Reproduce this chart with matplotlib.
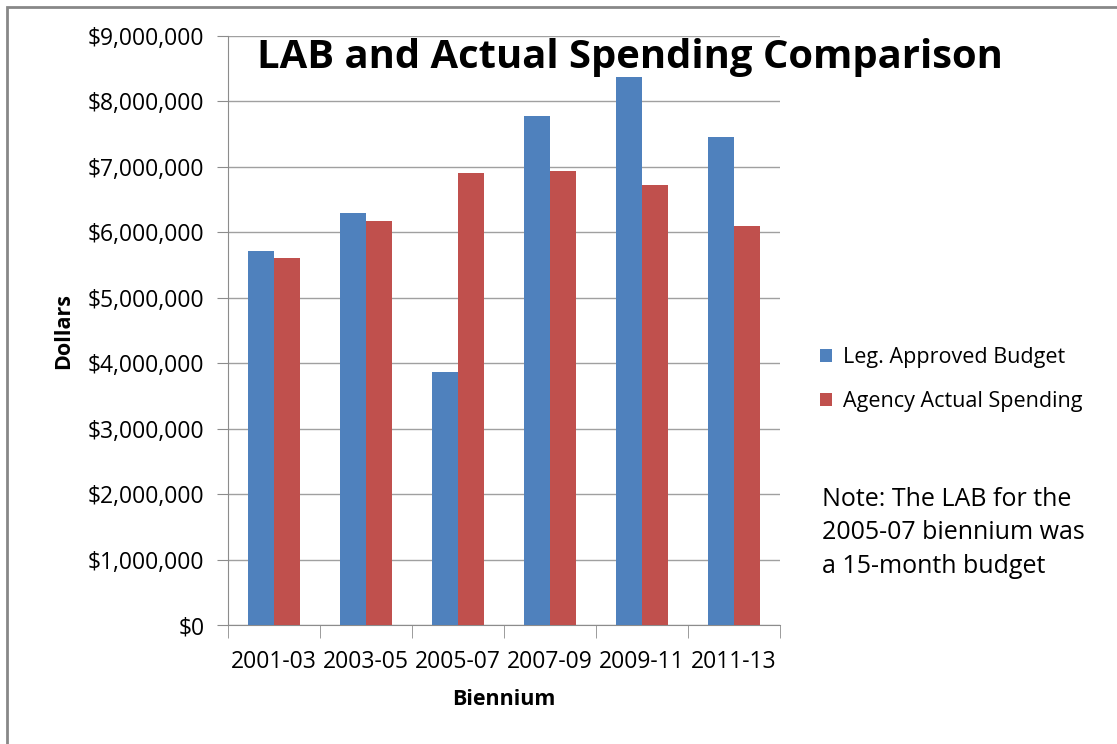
import matplotlib.pyplot as plt
import numpy as np
from matplotlib.ticker import FuncFormatter, FixedLocator
from matplotlib.patches import Rectangle

plt.rcParams['font.family'] = ['Open Sans', 'DejaVu Sans']

bienniums = ['2001-03', '2003-05', '2005-07', '2007-09', '2009-11', '2011-13']
leg_budget = [5720000, 6300000, 3870000, 7780000, 8370000, 7460000]
actual_spending = [5610000, 6170000, 6910000, 6930000, 6720000, 6090000]

blue = '#4F81BD'
red = '#C0504D'

fig = plt.figure(figsize=(11.17, 7.44), dpi=100)
ax = fig.add_axes([0.2041, 0.1599, 0.4942, 0.7917])

x = np.arange(len(bienniums))
w = 0.28
ax.bar(x - w / 2, leg_budget, w, color=blue, label='Leg. Approved Budget', zorder=3)
ax.bar(x + w / 2, actual_spending, w, color=red, label='Agency Actual Spending', zorder=3)

ax.set_xlim(-0.5, len(bienniums) - 0.5)
ax.set_ylim(0, 9000000)
ax.set_yticks(np.arange(0, 9000001, 1000000))
ax.yaxis.set_major_formatter(FuncFormatter(lambda v, p: '${:,.0f}'.format(v)))
ax.yaxis.grid(True, color='#a0a0a0', linewidth=1, zorder=0)

ax.set_xticks(x)
ax.set_xticklabels(bienniums)
ax.xaxis.set_minor_locator(FixedLocator(np.arange(-0.5, len(bienniums), 1)))
ax.tick_params(axis='x', which='major', length=0, labelsize=16.5, pad=18)
ax.tick_params(axis='x', which='minor', length=9, color='#8c8c8c', direction='out')
ax.tick_params(axis='y', length=8, color='#8c8c8c', labelsize=16.5, pad=9)

for s in ['top', 'right']:
    ax.spines[s].set_visible(False)
for s in ['left', 'bottom']:
    ax.spines[s].set_color('#8c8c8c')

ax.set_ylabel('Dollars', fontsize=15.5, fontweight='bold', labelpad=10)
ax.set_xlabel('Biennium', fontsize=15.5, fontweight='bold', labelpad=11)

fig.text(0.564, 0.923, 'LAB and Actual Spending Comparison', fontsize=28.8,
         fontweight='bold', ha='center', va='center')

fig.legend(loc='upper left', bbox_to_anchor=(0.717, 0.56), frameon=False,
           fontsize=15.5, handlelength=0.55, handleheight=0.55, handletextpad=0.5,
           labelspacing=1.1)

fig.text(0.736, 0.284, 'Note: The LAB for the\n2005-07 biennium was\na 15-month budget',
         fontsize=18, ha='left', va='center', linespacing=1.45)

fig.patches.append(Rectangle((7 / 1117, -0.1), 1.2, 1.1 - 7 / 744,
                             transform=fig.transFigure, fill=False,
                             edgecolor='#888888', linewidth=2))

fig.savefig('out.png', dpi=100)
